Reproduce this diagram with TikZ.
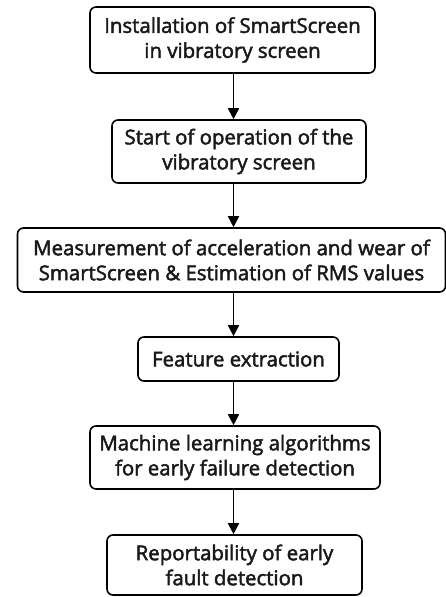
\documentclass[tikz,border=0pt]{standalone}
\usepackage{fontspec}
\setmainfont{Open Sans}[FakeBold=2.2]
\usetikzlibrary{arrows.meta}
\begin{document}
\begin{tikzpicture}[x=1pt,y=1pt,
  box/.style={draw=black, line width=1.6pt, rounded corners=6pt, inner sep=0pt, align=center, font=\fontsize{20.4}{25}\selectfont, text=black!90},
  arr/.style={line width=1.7pt, -{Triangle[length=11pt,width=11pt]}}]
\useasboundingbox (0,0) rectangle (446,-597);
\coordinate (ax) at (233.5,0);
\node[box, minimum width=285pt, minimum height=66pt] (b1) at (232.5,-40) {Installation of SmartScreen\\in vibratory screen};
\node[box, minimum width=254pt, minimum height=63pt] (b2) at (239,-151.5) {Start of operation of the\\vibratory screen};
\node[box, minimum width=428pt, minimum height=64pt] (b3) at (231.5,-260) {Measurement of acceleration and wear of\\SmartScreen \& Estimation of RMS values};
\node[box, minimum width=201pt, minimum height=44pt] (b4) at (238.5,-359) {Feature extraction};
\node[box, minimum width=290pt, minimum height=63pt] (b5) at (235,-457.5) {Machine learning algorithms\\for early failure detection};
\node[box, minimum width=255pt, minimum height=60pt] (b6) at (234.5,-565) {Reportability of early\\fault detection};
\draw[arr] (b1.south -| ax) -- (b2.north -| ax);
\draw[arr] (b2.south -| ax) -- (b3.north -| ax);
\draw[arr] (b3.south -| ax) -- (b4.north -| ax);
\draw[arr] (b4.south -| ax) -- (b5.north -| ax);
\draw[arr] (b5.south -| ax) -- (b6.north -| ax);
\end{tikzpicture}
\end{document}
